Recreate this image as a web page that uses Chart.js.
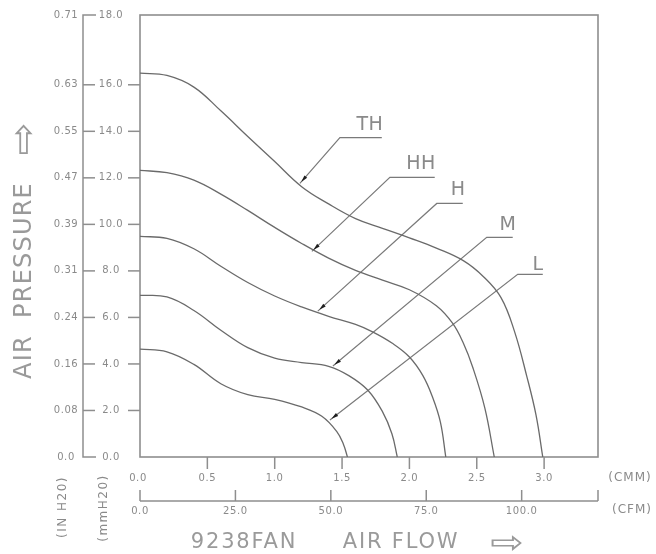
<!DOCTYPE html>
<html><head><meta charset="utf-8">
<script src="https://cdn.jsdelivr.net/npm/chart.js@4/dist/chart.umd.min.js"></script>
<style>html,body{margin:0;padding:0;background:#fff;}</style>
</head><body>
<canvas id="c" width="656" height="554"></canvas>
<script>
// ---- data (air flow in CMM, pressure in mmH2O) ----
const curveNames = ['TH','HH','H','M','L'];
const flowTH = [0,0.2,0.4,0.6,0.8,1.0,1.2,1.4,1.6,1.8,2.0,2.2,2.4,2.55,2.68,2.78,2.87,2.94,2.99];
const presTH = [16.5,16.4,15.9,14.88,13.78,12.7,11.62,10.88,10.25,9.83,9.42,8.98,8.44,7.75,6.85,5.4,3.5,1.8,0];
const flowHH = [0,0.2,0.4,0.6,0.8,1.0,1.2,1.4,1.6,1.8,2.0,2.2,2.32,2.4,2.47,2.56,2.63];
const presHH = [12.32,12.22,11.9,11.3,10.6,9.87,9.18,8.55,8.02,7.6,7.19,6.5,5.75,4.9,3.86,2.1,0];
const flowH = [0,0.2,0.4,0.6,0.8,1.0,1.2,1.4,1.6,1.73,1.87,2.0,2.1,2.17,2.23,2.27];
const presH = [9.48,9.4,8.95,8.2,7.5,6.92,6.45,6.05,5.7,5.37,4.9,4.3,3.5,2.6,1.5,0];
const flowM = [0,0.2,0.4,0.6,0.8,1.0,1.2,1.4,1.55,1.69,1.8,1.87,1.91];
const presM = [6.95,6.88,6.3,5.45,4.7,4.25,4.06,3.9,3.5,2.88,1.95,1.0,0];
const flowL = [0,0.2,0.4,0.6,0.8,1.0,1.2,1.35,1.46,1.51,1.54];
const presL = [4.64,4.52,3.98,3.15,2.68,2.48,2.15,1.75,1.1,0.55,0];

// leader lines: [tip, elbow, end] in data units, and label anchors
const leaderFlow = [[1.187,1.484,1.795],[1.276,1.855,2.188],[1.32,2.203,2.396],[1.432,2.574,2.767],[1.41,2.804,2.99]];
const leaderPres = [[11.76,13.73,13.73],[8.84,12.02,12.02],[6.27,10.9,10.9],[3.91,9.44,9.44],[1.59,7.85,7.85]];
const labelFlow = [1.707,2.086,2.361,2.732,2.955];
const labelPres = [14.27,12.60,11.48,9.97,8.25];

// ticks
const cmmTicks = [0,0.5,1.0,1.5,2.0,2.5,3.0];
const cmmLabels = ['0.0','0.5','1.0','1.5','2.0','2.5','3.0'];
const cfmTicks = [0,25,50,75,100];
const cfmLabels = ['0.0','25.0','50.0','75.0','100.0'];
const pressTicks = [0,2,4,6,8,10,12,14,16,19];
const mmLabels = ['0.0','2.0','4.0','6.0','8.0','10.0','12.0','14.0','16.0','18.0'];
const inLabels = ['0.0','0.08','0.16','0.24','0.31','0.39','0.47','0.55','0.63','0.71'];

const flows = [flowTH,flowHH,flowH,flowM,flowL];
const press = [presTH,presHH,presH,presM,presL];
const LINE = '#6a6a6a', AXIS = '#8e8e8e', TXT = '#8a8a8a';

const datasets = [];
flows.forEach((f,i)=>{
  datasets.push({label:curveNames[i], data:f.map((v,j)=>({x:v,y:press[i][j]})),
    borderColor:LINE, borderWidth:1.3, pointRadius:0, tension:0.4, fill:false});
});
leaderFlow.forEach((f,i)=>{
  datasets.push({label:curveNames[i]+' leader', data:f.map((v,j)=>({x:v,y:leaderPres[i][j]})),
    borderColor:'#7a7a7a', borderWidth:1.2, pointRadius:0, tension:0, fill:false});
});

function txt(ctx, s, x, y, font, align, spacing){
  ctx.font = font; ctx.textAlign = align || 'center'; ctx.textBaseline = 'middle';
  ctx.letterSpacing = (spacing||0)+'px';
  ctx.fillText(s, x, y);
  ctx.letterSpacing = '0px';
}

const deco = {
  id:'deco',
  beforeDatasetsDraw(chart){
    const {ctx, chartArea:a} = chart;
    ctx.save();
    ctx.strokeStyle = AXIS; ctx.lineWidth = 1.6;
    ctx.strokeRect(a.left, a.top, a.right-a.left, a.bottom-a.top);
    ctx.restore();
  },
  afterDraw(chart){
    const {ctx, chartArea:a, scales:{x, y, xcfm}} = chart;
    ctx.save();
    ctx.strokeStyle = AXIS; ctx.lineWidth = 1.5; ctx.fillStyle = TXT;
    const tf = '10px "DejaVu Sans"';
    // left mmH2O ticks + labels
    pressTicks.forEach((v,i)=>{
      const py = y.getPixelForValue(v);
      if (i>0 && i<pressTicks.length-1){
        ctx.beginPath(); ctx.moveTo(a.left-12, py); ctx.lineTo(a.left, py); ctx.stroke();
      }
      txt(ctx, mmLabels[i], a.left-29, py, tf, 'center', 0.6);
    });
    // inch axis
    const x0 = a.left-57;
    ctx.beginPath();
    ctx.moveTo(x0+13, a.top); ctx.lineTo(x0, a.top); ctx.lineTo(x0, a.bottom); ctx.lineTo(x0+13, a.bottom);
    ctx.stroke();
    pressTicks.forEach((v,i)=>{
      const py = y.getPixelForValue(v);
      if (i>0 && i<pressTicks.length-1){
        ctx.beginPath(); ctx.moveTo(x0, py); ctx.lineTo(x0+12, py); ctx.stroke();
      }
      txt(ctx, inLabels[i], x0-17, py, tf, 'center', 0.6);
    });
    // CMM ticks
    cmmTicks.forEach((v,i)=>{
      const px = x.getPixelForValue(v);
      if (i>0){ ctx.beginPath(); ctx.moveTo(px, a.bottom); ctx.lineTo(px, a.bottom+12); ctx.stroke(); }
      txt(ctx, cmmLabels[i], px-(i===0?2:0), a.bottom+21, tf, 'center', 0.6);
    });
    // CFM axis
    const cy = a.bottom+44;
    ctx.beginPath(); ctx.moveTo(a.left, cy); ctx.lineTo(a.right, cy);
    ctx.moveTo(a.right, cy); ctx.lineTo(a.right, cy-11); ctx.stroke();
    cfmTicks.forEach((v,i)=>{
      const px = xcfm.getPixelForValue(v);
      ctx.beginPath(); ctx.moveTo(px, cy); ctx.lineTo(px, cy-11); ctx.stroke();
      txt(ctx, cfmLabels[i], px, cy+10, tf, 'center', 0.6);
    });
    txt(ctx, '(CMM)', a.right+32, a.bottom+21, '12px "DejaVu Sans"', 'center', 1);
    txt(ctx, '(CFM)', a.right+34, cy+9, '12px "DejaVu Sans"', 'center', 1);
    // rotated unit labels
    [['(IN H20)', 63, 507], ['(mmH20)', 104, 508]].forEach(([s,px,py])=>{
      ctx.save(); ctx.translate(px, py); ctx.rotate(-Math.PI/2);
      txt(ctx, s, 0, 0, '12px "DejaVu Sans"', 'center', 1.5);
      ctx.restore();
    });
    // AIR PRESSURE title
    ctx.save(); ctx.fillStyle = '#9a9a9a'; ctx.translate(25, 0); ctx.rotate(-Math.PI/2);
    txt(ctx, 'AIR', -357, 0, '24px "DejaVu Sans"', 'center', 1.2);
    txt(ctx, 'PRESSURE', -250, 0, '24px "DejaVu Sans"', 'center', 1.2);
    ctx.save(); ctx.translate(-139, 1); ctx.scale(1.1, 1);
    txt(ctx, '⇨', 0, 0, '36px "DejaVu Sans"', 'center', 0);
    ctx.restore();
    ctx.restore();
    // bottom title
    ctx.save(); ctx.fillStyle = '#9a9a9a';
    txt(ctx, '9238FAN', 244, 543, '21px "DejaVu Sans"', 'center', 1.8);
    txt(ctx, 'AIR FLOW', 401, 543, '21px "DejaVu Sans"', 'center', 1.8);
    ctx.translate(507, 545); ctx.scale(1.25, 1);
    txt(ctx, '⇨', 0, 0, '32px "DejaVu Sans"', 'center', 0);
    ctx.restore();
    // leader arrows + labels
    leaderFlow.forEach((f,i)=>{
      const tx = x.getPixelForValue(f[0]), ty = y.getPixelForValue(leaderPres[i][0]);
      const ex = x.getPixelForValue(f[1]), ey = y.getPixelForValue(leaderPres[i][1]);
      const d = Math.hypot(ex-tx, ey-ty), ux = (ex-tx)/d, uy = (ey-ty)/d;
      const sx = tx+ux*2, sy = ty+uy*2, bx = tx+ux*9, by = ty+uy*9;
      ctx.beginPath(); ctx.fillStyle = '#1e1e1e';
      ctx.moveTo(sx, sy); ctx.lineTo(bx - uy*1.8, by + ux*1.8); ctx.lineTo(bx + uy*1.8, by - ux*1.8);
      ctx.closePath(); ctx.fill();
      ctx.fillStyle = TXT;
      txt(ctx, curveNames[i], x.getPixelForValue(labelFlow[i]), y.getPixelForValue(labelPres[i]), '19px "DejaVu Sans"', 'center', 0.5);
    });
    ctx.restore();
  }
};

new Chart(document.getElementById('c'), {
  type:'line',
  data:{datasets},
  options:{
    responsive:false, animation:false, devicePixelRatio:1,
    layout:{padding:{left:140,right:58,top:15,bottom:97}},
    plugins:{legend:{display:false}, tooltip:{enabled:false}, title:{display:false}},
    scales:{
      x:{type:'linear', min:0, max:3.4, display:false},
      xcfm:{type:'linear', axis:'x', position:'bottom', min:0, max:120, display:false},
      y:{type:'linear', min:0, max:19, display:false}
    }
  },
  plugins:[deco]
});
</script>
</body></html>
